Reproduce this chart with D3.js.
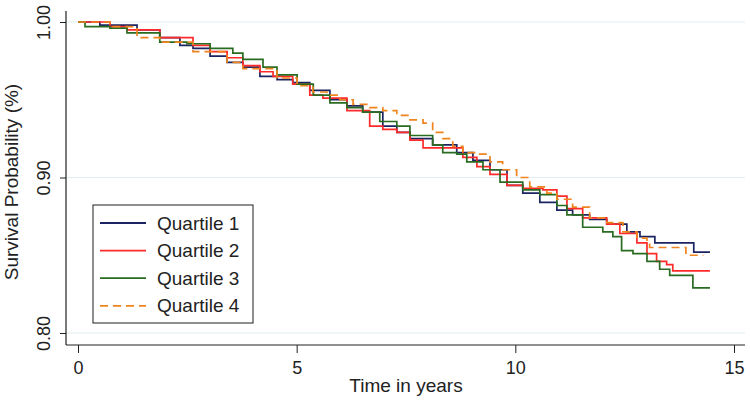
<!DOCTYPE html>
<html>
<head>
<meta charset="utf-8">
<script src="https://cdn.jsdelivr.net/npm/d3@7/dist/d3.min.js"></script>
<style>
  html, body { margin: 0; padding: 0; background: #fff; }
  svg { display: block; font-family: "Liberation Sans", Arial, sans-serif; }
</style>
</head>
<body>
<svg id="chart" width="750" height="402"></svg>
<script>
// ---- data ----
const seriesNames = ["Quartile 1", "Quartile 2", "Quartile 3", "Quartile 4"];
const xTicks = [0, 5, 10, 15];
const yTicks = [0.80, 0.90, 1.00];

const q1Time = [0, 0.50, 1.35, 1.87, 2.33, 2.63, 3.02, 3.41, 3.77, 4.16, 4.55, 4.91, 5.30, 5.76, 6.15, 6.51, 6.97, 7.29, 7.59, 8.11, 8.66, 9.03, 9.42, 9.81, 10.17, 10.56, 10.95, 11.31, 11.70, 12.09, 12.55, 12.85, 13.19, 14.08, 14.45];
const q1Surv = [1.000, 0.998, 0.995, 0.990, 0.985, 0.983, 0.978, 0.974, 0.971, 0.965, 0.963, 0.961, 0.956, 0.950, 0.946, 0.942, 0.933, 0.929, 0.925, 0.921, 0.916, 0.911, 0.905, 0.895, 0.890, 0.884, 0.879, 0.876, 0.873, 0.870, 0.865, 0.862, 0.858, 0.852, 0.852];

const q2Time = [0, 0.73, 1.12, 1.87, 2.63, 3.02, 3.41, 3.77, 4.16, 4.46, 4.91, 5.30, 5.60, 6.15, 6.67, 6.97, 7.29, 7.59, 7.89, 8.80, 9.12, 9.42, 9.81, 10.17, 10.63, 10.95, 11.18, 11.54, 12.09, 12.39, 12.78, 13.01, 13.23, 13.46, 13.60, 14.45];
const q2Surv = [1.000, 0.997, 0.995, 0.990, 0.985, 0.981, 0.977, 0.972, 0.968, 0.965, 0.960, 0.953, 0.951, 0.943, 0.933, 0.931, 0.929, 0.924, 0.919, 0.913, 0.907, 0.902, 0.895, 0.893, 0.892, 0.888, 0.880, 0.874, 0.870, 0.864, 0.858, 0.851, 0.846, 0.844, 0.840, 0.840];

const q3Time = [0, 0.16, 0.73, 1.12, 1.87, 2.49, 3.02, 3.54, 3.77, 4.23, 4.55, 5.01, 5.38, 5.76, 6.15, 6.51, 6.90, 7.29, 7.59, 8.11, 8.34, 8.66, 8.89, 9.26, 9.65, 10.17, 10.56, 10.95, 11.18, 11.54, 12.00, 12.23, 12.43, 12.69, 13.01, 13.30, 13.53, 14.06, 14.45];
const q3Surv = [1.000, 0.997, 0.996, 0.993, 0.987, 0.986, 0.983, 0.980, 0.976, 0.971, 0.966, 0.960, 0.953, 0.948, 0.945, 0.942, 0.936, 0.933, 0.927, 0.921, 0.916, 0.915, 0.910, 0.905, 0.897, 0.892, 0.889, 0.882, 0.876, 0.868, 0.865, 0.862, 0.853, 0.851, 0.846, 0.841, 0.837, 0.829, 0.829];

const q4Time = [0, 0.73, 1.35, 1.87, 2.63, 3.41, 3.77, 4.55, 5.01, 5.37, 5.69, 5.99, 6.29, 6.67, 6.97, 7.29, 7.59, 7.89, 8.11, 8.34, 8.57, 8.80, 9.12, 9.42, 9.71, 10.03, 10.33, 10.72, 10.95, 11.31, 11.70, 12.09, 12.46, 12.78, 13.01, 13.07, 13.90, 14.30];
const q4Surv = [1.000, 0.997, 0.990, 0.987, 0.981, 0.974, 0.970, 0.964, 0.959, 0.955, 0.953, 0.950, 0.947, 0.945, 0.943, 0.940, 0.937, 0.935, 0.929, 0.925, 0.920, 0.916, 0.915, 0.910, 0.905, 0.900, 0.894, 0.890, 0.886, 0.881, 0.874, 0.871, 0.865, 0.861, 0.858, 0.855, 0.850, 0.850];

const seriesColors = ["#1b2460", "#ff2a2a", "#2a6b22", "#f0841e"];
const seriesDash = [null, null, null, "8,5"];

// ---- layout ----
const svg = d3.select("#chart");
const plotLeft = 66, plotRight = 745, plotTop = 11, plotBottom = 345;
const fontFam = "Liberation Sans, Arial, sans-serif";

const x = d3.scaleLinear().domain([0, 15]).range([78, 734]);
const y = d3.scaleLinear().domain([0.80, 1.00]).range([333, 22]);

// gridlines
svg.append("g").selectAll("line").data(yTicks).join("line")
  .attr("x1", plotLeft).attr("x2", plotRight)
  .attr("y1", d => y(d)).attr("y2", d => y(d))
  .attr("stroke", "#e0edf1").attr("stroke-width", 1.2);

// y axis
const yAxis = svg.append("g").attr("transform", `translate(${plotLeft},0)`)
  .call(d3.axisLeft(y).tickValues(yTicks).tickFormat(d3.format(".2f")).tickSize(6).tickPadding(0));
yAxis.select(".domain").remove();
yAxis.selectAll(".tick line").attr("stroke", "#222");
yAxis.selectAll(".tick text")
  .attr("transform", "translate(-16,0) rotate(-90)")
  .attr("x", 0).attr("y", 0).attr("dy", 0)
  .attr("text-anchor", "middle")
  .attr("font-size", 18).attr("fill", "#222")
  .attr("font-family", fontFam);
svg.append("line").attr("x1", plotLeft).attr("x2", plotLeft)
  .attr("y1", plotTop).attr("y2", plotBottom).attr("stroke", "#222").attr("stroke-width", 1.2);

// x axis
const xAxis = svg.append("g").attr("transform", `translate(0,${plotBottom})`)
  .call(d3.axisBottom(x).tickValues(xTicks).tickSize(8).tickPadding(0));
xAxis.select(".domain").remove();
xAxis.selectAll(".tick line").attr("stroke", "#222");
xAxis.selectAll(".tick text")
  .attr("y", 29).attr("dy", 0)
  .attr("font-size", 18).attr("fill", "#222")
  .attr("font-family", fontFam);
svg.append("line").attr("x1", plotLeft).attr("x2", plotRight)
  .attr("y1", plotBottom).attr("y2", plotBottom).attr("stroke", "#222").attr("stroke-width", 1.2);

// axis titles
svg.append("text").attr("x", (x(0) + x(15)) / 2).attr("y", 392)
  .attr("text-anchor", "middle").attr("font-size", 19).attr("fill", "#222")
  .text("Time in years");
svg.append("text").attr("transform", `translate(18,182) rotate(-90)`)
  .attr("text-anchor", "middle").attr("font-size", 19).attr("fill", "#222")
  .text("Survival Probability (%)");

// curves
const times = [q1Time, q2Time, q3Time, q4Time];
const survs = [q1Surv, q2Surv, q3Surv, q4Surv];
const line = d3.line().x(d => x(d[0])).y(d => y(d[1])).curve(d3.curveStepAfter);
times.forEach((t, i) => {
  const pts = t.map((tt, j) => [tt, survs[i][j]]);
  svg.append("path").datum(pts)
    .attr("d", line)
    .attr("fill", "none")
    .attr("stroke", seriesColors[i])
    .attr("stroke-width", 1.7)
    .attr("stroke-dasharray", seriesDash[i]);
});

// legend
const lg = svg.append("g");
lg.append("rect").attr("x", 93).attr("y", 205).attr("width", 160).attr("height", 118)
  .attr("fill", "#fff").attr("stroke", "#444").attr("stroke-width", 1.2);
seriesNames.forEach((name, i) => {
  const yy = 223 + i * 27.6;
  lg.append("line").attr("x1", 100).attr("x2", 146).attr("y1", yy).attr("y2", yy)
    .attr("stroke", seriesColors[i]).attr("stroke-width", 1.8)
    .attr("stroke-dasharray", seriesDash[i]);
  lg.append("text").attr("x", 157).attr("y", yy + 6.5).attr("font-size", 19).attr("fill", "#222")
    .text(name);
});
</script>
</body>
</html>
